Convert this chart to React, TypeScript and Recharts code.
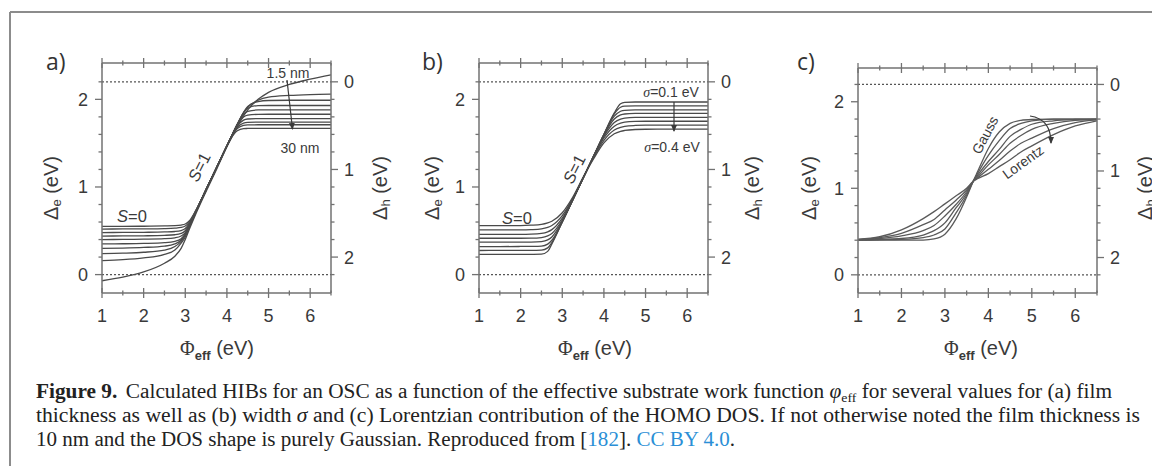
import { LineChart, Line, XAxis, YAxis, ReferenceLine } from 'recharts'

const FRAME = '#727272'
const CURVE = '#4a4a4a'
const INK = '#3a3a3a'
const SANS = '"Liberation Sans", Arial, sans-serif'
const SERIF = '"Liberation Serif", "Times New Roman", serif'
const LINK = '#2b8fd6'

// room around each plot frame for the four axes
const PAD_L = 60
const PAD_R = 60
const PAD_T = 20
const PAD_B = 70

// Δh = 2.2 eV - Δe (right axis)
const HOMO_OFFSET = 2.2

const phiTicks = [1, 1.5, 2, 2.5, 3, 3.5, 4, 4.5, 5, 5.5, 6, 6.5]
const deltaETicks = [0, 0.2, 0.4, 0.6, 0.8, 1, 1.2, 1.4, 1.6, 1.8, 2, 2.2]
const deltaHTicks = [0, 0.2, 0.4, 0.6, 0.8, 1, 1.2, 1.4, 1.6, 1.8, 2, 2.2]

// a) film thickness, 1.5 nm (first) ... 30 nm (last)
const phiA = [1, 1.5, 2, 2.5, 2.75, 2.9, 3, 3.1, 3.25, 3.5, 3.75, 4, 4.1, 4.25, 4.4, 4.5, 4.75, 5, 5.5, 6, 6.5]
const thicknessCurves = [
  [-0.07, -0.03, 0.03, 0.13, 0.21, 0.3, 0.4, 0.52, 0.69, 0.95, 1.2, 1.46, 1.555, 1.69, 1.81, 1.88, 2.0, 2.08, 2.17, 2.23, 2.28],
  [0.16, 0.17, 0.19, 0.23, 0.28, 0.36, 0.43, 0.545, 0.71, 0.97, 1.22, 1.47, 1.57, 1.715, 1.85, 1.91, 1.99, 2.025, 2.045, 2.055, 2.06],
  [0.24, 0.245, 0.255, 0.28, 0.32, 0.38, 0.45, 0.55, 0.71, 0.97, 1.22, 1.47, 1.57, 1.717, 1.85, 1.92, 1.975, 1.987, 1.99, 1.99, 1.99],
  [0.3, 0.303, 0.31, 0.325, 0.35, 0.395, 0.46, 0.555, 0.715, 0.97, 1.22, 1.47, 1.569, 1.715, 1.845, 1.899, 1.929, 1.93, 1.93, 1.93, 1.93],
  [0.35, 0.352, 0.356, 0.365, 0.38, 0.41, 0.465, 0.56, 0.715, 0.97, 1.22, 1.47, 1.568, 1.713, 1.826, 1.863, 1.879, 1.88, 1.88, 1.88, 1.88],
  [0.4, 0.401, 0.404, 0.41, 0.42, 0.44, 0.48, 0.565, 0.718, 0.97, 1.22, 1.47, 1.568, 1.707, 1.799, 1.821, 1.829, 1.83, 1.83, 1.83, 1.83],
  [0.44, 0.441, 0.443, 0.448, 0.455, 0.47, 0.5, 0.575, 0.72, 0.97, 1.22, 1.469, 1.567, 1.695, 1.763, 1.776, 1.78, 1.78, 1.78, 1.78, 1.78],
  [0.48, 0.481, 0.483, 0.487, 0.492, 0.503, 0.525, 0.585, 0.722, 0.97, 1.22, 1.468, 1.564, 1.681, 1.73, 1.737, 1.74, 1.74, 1.74, 1.74, 1.74],
  [0.52, 0.521, 0.522, 0.525, 0.53, 0.538, 0.555, 0.6, 0.725, 0.97, 1.22, 1.467, 1.561, 1.666, 1.703, 1.708, 1.71, 1.71, 1.71, 1.71, 1.71],
  [0.55, 0.551, 0.552, 0.555, 0.558, 0.565, 0.578, 0.615, 0.73, 0.97, 1.22, 1.466, 1.555, 1.642, 1.666, 1.668, 1.67, 1.67, 1.67, 1.67, 1.67],
]

// b) Gaussian width, sigma = 0.1 eV (first) ... 0.4 eV (last)
const phiB = [1, 1.5, 2, 2.25, 2.5, 2.65, 2.75, 3, 3.25, 3.5, 3.75, 4, 4.25, 4.4, 4.5, 4.75, 5, 5.5, 6, 6.5]
const sigmaCurves = [
  [0.23, 0.23, 0.23, 0.231, 0.233, 0.265, 0.35, 0.6, 0.85, 1.1, 1.35, 1.6, 1.845, 1.95, 1.965, 1.97, 1.97, 1.97, 1.97, 1.97],
  [0.275, 0.276, 0.277, 0.277, 0.279, 0.305, 0.365, 0.6, 0.85, 1.1, 1.35, 1.6, 1.835, 1.91, 1.922, 1.925, 1.925, 1.925, 1.925, 1.925],
  [0.32, 0.32, 0.321, 0.322, 0.325, 0.348, 0.392, 0.602, 0.85, 1.1, 1.35, 1.598, 1.808, 1.864, 1.875, 1.879, 1.88, 1.88, 1.88, 1.88],
  [0.37, 0.37, 0.37, 0.371, 0.377, 0.396, 0.43, 0.61, 0.851, 1.1, 1.35, 1.591, 1.776, 1.822, 1.833, 1.839, 1.84, 1.84, 1.84, 1.84],
  [0.415, 0.415, 0.415, 0.416, 0.423, 0.442, 0.47, 0.623, 0.853, 1.1, 1.347, 1.578, 1.736, 1.775, 1.786, 1.794, 1.795, 1.795, 1.795, 1.795],
  [0.46, 0.46, 0.46, 0.462, 0.47, 0.488, 0.513, 0.644, 0.858, 1.101, 1.342, 1.559, 1.694, 1.728, 1.739, 1.748, 1.75, 1.75, 1.75, 1.75],
  [0.51, 0.51, 0.51, 0.513, 0.522, 0.539, 0.56, 0.672, 0.868, 1.104, 1.334, 1.533, 1.651, 1.681, 1.692, 1.702, 1.705, 1.705, 1.705, 1.705],
  [0.56, 0.56, 0.56, 0.564, 0.573, 0.59, 0.609, 0.706, 0.883, 1.109, 1.32, 1.503, 1.607, 1.635, 1.645, 1.656, 1.659, 1.66, 1.66, 1.66],
]

// c) DOS shape, Gauss (first) ... Lorentz (last)
const phiC = [1, 1.5, 2, 2.5, 2.75, 3, 3.25, 3.5, 3.65, 3.75, 4, 4.25, 4.5, 4.75, 5, 5.5, 6, 6.5]
const shapeCurves = [
  [0.4, 0.4, 0.4, 0.402, 0.415, 0.47, 0.64, 0.9, 1.08, 1.19, 1.46, 1.65, 1.75, 1.785, 1.795, 1.8, 1.8, 1.8],
  [0.4, 0.405, 0.41, 0.43, 0.46, 0.53, 0.71, 0.92, 1.08, 1.17, 1.38, 1.55, 1.69, 1.75, 1.78, 1.8, 1.8, 1.8],
  [0.4, 0.41, 0.42, 0.46, 0.51, 0.6, 0.77, 0.94, 1.08, 1.15, 1.31, 1.45, 1.6, 1.68, 1.74, 1.78, 1.795, 1.8],
  [0.405, 0.42, 0.45, 0.51, 0.57, 0.68, 0.81, 0.96, 1.08, 1.13, 1.27, 1.39, 1.52, 1.61, 1.68, 1.75, 1.785, 1.795],
  [0.41, 0.43, 0.48, 0.58, 0.64, 0.75, 0.86, 0.98, 1.08, 1.12, 1.22, 1.32, 1.43, 1.52, 1.58, 1.69, 1.76, 1.79],
  [0.41, 0.44, 0.52, 0.65, 0.73, 0.82, 0.91, 1.0, 1.08, 1.11, 1.17, 1.25, 1.33, 1.42, 1.49, 1.62, 1.72, 1.78],
]

const isMajor = (v: number) => Math.abs(v - Math.round(v)) < 1e-6

function BottomTick({ x, y, payload }: any) {
  const m = isMajor(payload.value)
  const s = m ? 5 : 2.5
  return (
    <g>
      <line x1={x} x2={x} y1={y - s} y2={y + s} stroke={FRAME} strokeWidth={1.3} />
      {m && (
        <text x={x} y={y + 29} textAnchor="middle" fontSize={18} fill={INK} fontFamily={SANS}>
          {payload.value}
        </text>
      )}
    </g>
  )
}

function TopTick({ x, y, payload }: any) {
  const s = isMajor(payload.value) ? 5 : 2.5
  return <line x1={x} x2={x} y1={y - s} y2={y + s} stroke={FRAME} strokeWidth={1.3} />
}

function LeftTick({ x, y, payload }: any) {
  const m = isMajor(payload.value)
  return (
    <g>
      <line x1={x - (m ? 7 : 3.5)} x2={x} y1={y} y2={y} stroke={FRAME} strokeWidth={1.3} />
      {m && (
        <text x={x - 14} y={y + 6.5} textAnchor="end" fontSize={18} fill={INK} fontFamily={SANS}>
          {Math.round(payload.value)}
        </text>
      )}
    </g>
  )
}

function RightTick({ x, y, payload }: any) {
  const m = isMajor(payload.value)
  return (
    <g>
      <line x1={x} x2={x + (m ? 7 : 3.5)} y1={y} y2={y} stroke={FRAME} strokeWidth={1.3} />
      {m && (
        <text x={x + 13} y={y + 6.5} textAnchor="start" fontSize={18} fill={INK} fontFamily={SANS}>
          {Math.round(payload.value)}
        </text>
      )}
    </g>
  )
}

type PanelProps = {
  frameX: number
  frameY: number
  frameW: number
  frameH: number
  yMin: number
  yMax: number
  phi: number[]
  curves: number[][]
  stroke: string
}

function Panel({ frameX, frameY, frameW, frameH, yMin, yMax, phi, curves, stroke }: PanelProps) {
  const data = phi.map((x, i) => {
    const row: Record<string, number> = { phi: x }
    curves.forEach((c, k) => {
      row['c' + k] = c[i]
    })
    return row
  })
  const axisLine = { stroke: FRAME, strokeWidth: 1.5 }
  return (
    <div style={{ position: 'absolute', left: frameX - PAD_L, top: frameY - PAD_T }}>
      <LineChart
        width={frameW + PAD_L + PAD_R}
        height={frameH + PAD_T + PAD_B}
        data={data}
        margin={{ top: 0, right: 0, bottom: 0, left: 0 }}
      >
        <XAxis
          xAxisId="b"
          dataKey="phi"
          type="number"
          domain={[1, 6.5]}
          ticks={phiTicks}
          interval={0}
          allowDataOverflow
          height={PAD_B}
          tickSize={0}
          tickMargin={0}
          tickLine={false}
          axisLine={axisLine}
          tick={<BottomTick />}
        />
        <XAxis
          xAxisId="t"
          orientation="top"
          dataKey="phi"
          type="number"
          domain={[1, 6.5]}
          ticks={phiTicks}
          interval={0}
          allowDataOverflow
          height={PAD_T}
          tickSize={0}
          tickMargin={0}
          tickLine={false}
          axisLine={axisLine}
          tick={<TopTick />}
        />
        <YAxis
          yAxisId="l"
          type="number"
          domain={[yMin, yMax]}
          ticks={deltaETicks}
          interval={0}
          allowDataOverflow
          width={PAD_L}
          tickSize={0}
          tickMargin={0}
          tickLine={false}
          axisLine={axisLine}
          tick={<LeftTick />}
        />
        <YAxis
          yAxisId="r"
          orientation="right"
          type="number"
          domain={[HOMO_OFFSET - yMax, HOMO_OFFSET - yMin]}
          reversed
          ticks={deltaHTicks}
          interval={0}
          allowDataOverflow
          width={PAD_R}
          tickSize={0}
          tickMargin={0}
          tickLine={false}
          axisLine={axisLine}
          tick={<RightTick />}
        />
        <ReferenceLine xAxisId="b" yAxisId="l" y={0} stroke="#555" strokeWidth={1.3} strokeDasharray="2 2" />
        <ReferenceLine xAxisId="b" yAxisId="l" y={HOMO_OFFSET} stroke="#555" strokeWidth={1.3} strokeDasharray="2 2" />
        {curves.map((_, k) => (
          <Line
            key={k}
            xAxisId="b"
            yAxisId="l"
            dataKey={'c' + k}
            type="monotone"
            dot={false}
            stroke={stroke}
            strokeWidth={1.3}
            isAnimationActive={false}
          />
        ))}
      </LineChart>
    </div>
  )
}

function AxisTitles({ left, right, bottom }: { left: number; right: number; bottom: number }) {
  const common = { fontSize: 20, fill: INK, fontFamily: SANS }
  return (
    <g>
      <text transform={`translate(${left},188) rotate(-90)`} textAnchor="middle" dominantBaseline="central" {...common}>
        Δ<tspan fontSize={13} dy={5}>e</tspan>
        <tspan dy={-5}> (eV)</tspan>
      </text>
      <text transform={`translate(${right},188) rotate(-90)`} textAnchor="middle" dominantBaseline="central" {...common}>
        Δ<tspan fontSize={13} dy={5}>h</tspan>
        <tspan dy={-5}> (eV)</tspan>
      </text>
      <text x={bottom} y={355} textAnchor="middle" {...common}>
        <tspan fontFamily={SERIF}>Φ</tspan>
        <tspan fontSize={13} dy={5} fontWeight="bold">eff</tspan>
        <tspan dy={-5}> (eV)</tspan>
      </text>
    </g>
  )
}

export default function App() {
  const note = { fontSize: 14, fill: INK, fontFamily: SANS }
  return (
    <div
      style={{
        position: 'fixed',
        left: 0,
        top: 0,
        width: 1152,
        height: 466,
        overflow: 'hidden',
        background: '#fff',
      }}
    >
      <Panel frameX={102} frameY={63} frameW={229} frameH={230} yMin={-0.21} yMax={2.415} phi={phiA} curves={thicknessCurves} stroke={CURVE} />
      <Panel frameX={479} frameY={63} frameW={229} frameH={230} yMin={-0.21} yMax={2.415} phi={phiB} curves={sigmaCurves} stroke={CURVE} />
      <Panel frameX={858} frameY={68} frameW={239} frameH={225} yMin={-0.21} yMax={2.39} phi={phiC} curves={shapeCurves} stroke="#5a5a5a" />

      <svg width={1152} height={466} style={{ position: 'absolute', left: 0, top: 0, pointerEvents: 'none' }}>
        <defs>
          <marker id="head" markerWidth="8" markerHeight="8" refX="6" refY="4" orient="auto" markerUnits="userSpaceOnUse">
            <path d="M0,1 L7,4 L0,7 Z" fill={INK} />
          </marker>
        </defs>

        {/* page border */}
        <line x1={10} y1={12} x2={1152} y2={12} stroke="#8c8c8c" strokeWidth={2} />
        <line x1={10} y1={12} x2={10} y2={466} stroke="#8c8c8c" strokeWidth={2} />

        {/* panel letters */}
        <text x={46} y={70} fontSize={23} fill="#333" fontFamily='"Open Sans", sans-serif'>a)</text>
        <text x={422} y={70} fontSize={23} fill="#333" fontFamily='"Open Sans", sans-serif'>b)</text>
        <text x={797} y={70} fontSize={23} fill="#333" fontFamily='"Open Sans", sans-serif'>c)</text>

        <AxisTitles left={51} right={380} bottom={217} />
        <AxisTitles left={432} right={752} bottom={595} />
        <AxisTitles left={809} right={1145} bottom={981} />

        {/* a) annotations */}
        <text x={288} y={78} textAnchor="middle" {...note}>1.5 nm</text>
        <line x1={287} y1={80} x2={292.5} y2={129} stroke={INK} strokeWidth={1.2} markerEnd="url(#head)" />
        <text x={300} y={153} textAnchor="middle" {...note}>30 nm</text>
        <text x={132} y={222} textAnchor="middle" fontSize={16.5} fill={INK} fontFamily={SANS}>
          <tspan fontStyle="italic">S</tspan>=0
        </text>
        <text transform="translate(199,167) rotate(-63)" textAnchor="middle" dominantBaseline="central" fontSize={16.5} fill={INK} fontFamily={SANS}>
          <tspan fontStyle="italic">S</tspan>=1
        </text>

        {/* b) annotations */}
        <text x={671} y={97} textAnchor="middle" {...note}>
          <tspan fontFamily={SERIF} fontStyle="italic">σ</tspan>=0.1 eV
        </text>
        <line x1={674} y1={102} x2={674} y2={131} stroke={INK} strokeWidth={1.2} markerEnd="url(#head)" />
        <text x={672} y={152} textAnchor="middle" {...note}>
          <tspan fontFamily={SERIF} fontStyle="italic">σ</tspan>=0.4 eV
        </text>
        <text x={517} y={224} textAnchor="middle" fontSize={16.5} fill={INK} fontFamily={SANS}>
          <tspan fontStyle="italic">S</tspan>=0
        </text>
        <text transform="translate(574,169) rotate(-63)" textAnchor="middle" dominantBaseline="central" fontSize={16.5} fill={INK} fontFamily={SANS}>
          <tspan fontStyle="italic">S</tspan>=1
        </text>

        {/* c) annotations */}
        <text transform="translate(985,135) rotate(-62)" textAnchor="middle" dominantBaseline="central" {...note}>Gauss</text>
        <text transform="translate(1023,162) rotate(-36)" textAnchor="middle" dominantBaseline="central" {...note}>Lorentz</text>
        <path d="M1030,116 Q1051,119 1051,143" fill="none" stroke={INK} strokeWidth={1.2} markerEnd="url(#head)" />

        {/* caption */}
        <g fontFamily={SERIF} fontSize={20} fill="#222">
          <text x={36} y={398} textLength={1076} lengthAdjust="spacingAndGlyphs">
            <tspan fontWeight="bold">Figure 9.</tspan>
            <tspan dx={8}>Calculated HIBs for an OSC as a function of the effective substrate work function </tspan>
            <tspan fontStyle="italic">φ</tspan>
            <tspan fontSize={13} dy={4}>eff</tspan>
            <tspan dy={-4}> for several values for (a) film</tspan>
          </text>
          <text x={36} y={422} textLength={1104} lengthAdjust="spacingAndGlyphs">
            thickness as well as (b) width <tspan fontStyle="italic">σ</tspan> and (c) Lorentzian contribution of the HOMO DOS. If not otherwise noted the film thickness is
          </text>
          <text x={36} y={446} textLength={699} lengthAdjust="spacingAndGlyphs">
            10 nm and the DOS shape is purely Gaussian. Reproduced from [<tspan fill={LINK}>182</tspan>]. <tspan fill={LINK}>CC BY 4.0</tspan>.
          </text>
        </g>
      </svg>
    </div>
  )
}
